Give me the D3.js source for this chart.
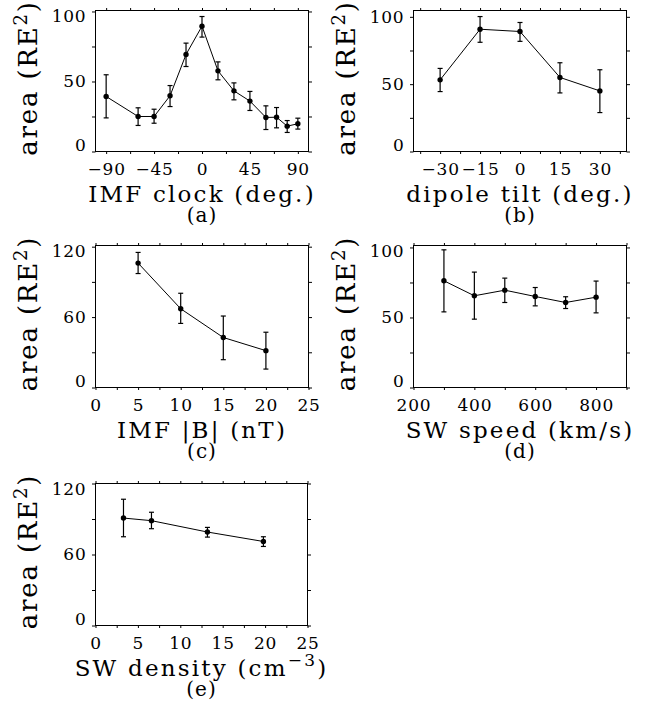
<!DOCTYPE html>
<html>
<head>
<meta charset="utf-8">
<title>Area vs solar wind parameters</title>
<script src="https://d3js.org/d3.v7.min.js"></script>
<style>
  body { margin: 0; background: #fff; }
  text { font-family: "DejaVu Serif", serif; fill: #000; }
</style>
</head>
<body>
<div id="chart"></div>
<script>
// (a) IMF clock angle
const clockX    = [-90, -60, -45, -30, -15, 0, 15, 30, 45, 60, 70, 80, 90];
const clockArea = [39.3, 25, 25, 39.8, 69.3, 89.5, 57.6, 43.3, 36, 24.3, 24.5, 18.1, 19.8];
const clockLo   = [24, 18.6, 20.2, 32.1, 60.7, 81.7, 51.2, 36.9, 29.3, 15.7, 16.9, 13.6, 16];
const clockHi   = [54.8, 31.2, 30.2, 47.1, 77.4, 96.4, 64, 49, 42.9, 32.6, 31.4, 22.1, 23.8];
const clockTicks = [-90, -45, 0, 45, 90];

// (b) dipole tilt
const tiltX    = [-30, -15, 0, 15, 30];
const tiltArea = [53.2, 90.8, 89.1, 55, 45];
const tiltLo   = [44.5, 81.1, 81.8, 43.5, 28.9];
const tiltHi   = [61.7, 100.2, 95.8, 65.9, 60.7];
const tiltTicks = [-30, -15, 0, 15, 30];

// (c) IMF |B|
const bX    = [5, 10, 15, 20];
const bArea = [106, 67.1, 42.6, 31.4];
const bLo   = [97.1, 54.6, 23.7, 15.7];
const bHi   = [115.1, 80.3, 60.9, 47.1];
const bTicks = [0, 5, 10, 15, 20, 25];

// (d) solar wind speed
const vX    = [300, 400, 500, 600, 700, 800];
const vArea = [76.2, 65.5, 69.5, 65, 60.7, 64.5];
const vLo   = [54, 48.8, 60.7, 58.3, 56.4, 53.3];
const vHi   = [98.3, 82.4, 78.1, 71.4, 64.8, 76];
const vTicks = [200, 400, 600, 800];

// (e) solar wind density
const nX    = [3.3, 6.6, 13.2, 19.8];
const nArea = [90.8, 88.6, 79, 71];
const nLo   = [75, 81.8, 74.7, 66.8];
const nHi   = [106.7, 95.7, 82.9, 75];
const nTicks = [0, 5, 10, 15, 20, 25];

const area50  = [0, 50, 100];
const area60  = [0, 60, 120];

const panels = [
  { tag: "(a)", x: clockX, y: clockArea, lo: clockLo, hi: clockHi,
    left: 95.5, right: 308.5, top: 10.5, bottom: 151.5,
    xDomain: [-100, 100], yDomain: [0, 100.7],
    xMinor: d3.range(-90, 91, 22.5), xLabels: clockTicks,
    yMinor: d3.range(0, 101, 25), yLabels: area50,
    xTitle: [["IMF clock (deg.)"]] },
  { tag: "(b)", x: tiltX, y: tiltArea, lo: tiltLo, hi: tiltHi,
    left: 413.5, right: 626.5, top: 10.5, bottom: 151.5,
    xDomain: [-40, 40], yDomain: [0, 104.7],
    xMinor: d3.range(-37.5, 38, 7.5), xLabels: tiltTicks,
    yMinor: d3.range(0, 101, 25), yLabels: area50,
    xTitle: [["dipole tilt (deg.)"]] },
  { tag: "(c)", x: bX, y: bArea, lo: bLo, hi: bHi,
    left: 95.5, right: 308.5, top: 245.5, bottom: 387.5,
    xDomain: [0, 25], yDomain: [0, 121],
    xMinor: d3.range(0, 25.1, 2.5), xLabels: bTicks,
    yMinor: d3.range(0, 121, 30), yLabels: area60,
    xTitle: [["IMF |B| (nT)"]] },
  { tag: "(d)", x: vX, y: vArea, lo: vLo, hi: vHi,
    left: 413.5, right: 626.5, top: 245.5, bottom: 387.5,
    xDomain: [200, 900], yDomain: [0, 101.4],
    xMinor: d3.range(200, 901, 100), xLabels: vTicks,
    yMinor: d3.range(0, 101, 25), yLabels: area50,
    xTitle: [["SW speed (km/s)"]] },
  { tag: "(e)", x: nX, y: nArea, lo: nLo, hi: nHi,
    left: 95.5, right: 307.5, top: 483.5, bottom: 625.5,
    xDomain: [0, 25], yDomain: [0, 120],
    xMinor: d3.range(0, 25.1, 2.5), xLabels: nTicks,
    yMinor: d3.range(0, 121, 30), yLabels: area60,
    xTitle: [["SW density (cm"], ["−3", "sup"], [")"]] }
];

const fmt = v => v < 0 ? "\u2212" + (-v) : String(v);

const svg = d3.select("#chart").append("svg")
    .attr("width", 645)
    .attr("height", 702);

function styleText(g, size, spacing) {
  g.selectAll("text")
      .attr("font-family", "DejaVu Serif")
      .attr("font-size", size)
      .attr("letter-spacing", spacing)
      .attr("fill", "#000");
}

function addRich(text, parts, size, supSize) {
  let up = false;
  parts.forEach(p => {
    const t = text.append("tspan").text(p[0]);
    if (p[1] === "sup") {
      t.attr("font-size", supSize).attr("dy", -10);
      up = true;
    } else {
      t.attr("font-size", size);
      if (up) { t.attr("dy", 10); up = false; }
    }
  });
}

panels.forEach(p => {
  const xs = d3.scaleLinear().domain(p.xDomain).range([p.left, p.right]);
  const ys = d3.scaleLinear().domain(p.yDomain).range([p.bottom, p.top]);
  const g = svg.append("g");

  // ticks on all four sides, pointing outward
  const gb = g.append("g").attr("transform", "translate(0," + p.bottom + ")")
      .call(d3.axisBottom(xs).tickValues(p.xMinor).tickSize(2.5).tickFormat(""));
  const gt = g.append("g").attr("transform", "translate(0," + p.top + ")")
      .call(d3.axisTop(xs).tickValues(p.xMinor).tickSize(2.5).tickFormat(""));
  const gl = g.append("g").attr("transform", "translate(" + p.left + ",0)")
      .call(d3.axisLeft(ys).tickValues(p.yMinor).tickSize(3.5).tickFormat(""));
  const gr = g.append("g").attr("transform", "translate(" + p.right + ",0)")
      .call(d3.axisRight(ys).tickValues(p.yMinor).tickSize(3.5).tickFormat(""));
  [gb, gt, gl, gr].forEach(a => a.select(".domain").remove());

  // tick labels
  const xl = g.append("g").attr("transform", "translate(0," + p.bottom + ")")
      .call(d3.axisBottom(xs).tickValues(p.xLabels).tickSize(0).tickPadding(11).tickFormat(fmt));
  xl.select(".domain").remove();
  styleText(xl, 17, 0.8);

  const yl = g.append("g").attr("transform", "translate(" + p.left + ",0)")
      .call(d3.axisLeft(ys).tickValues(p.yLabels).tickSize(0).tickPadding(9).tickFormat(fmt));
  yl.select(".domain").remove();
  styleText(yl, 17, 0.8);
  // keep end labels inside the axis range
  yl.selectAll(".tick text")
      .attr("y", d => Math.max(p.top + 6, Math.min(p.bottom - 6, ys(d))) - ys(d));

  // frame
  g.append("rect")
      .attr("x", p.left).attr("y", p.top)
      .attr("width", p.right - p.left).attr("height", p.bottom - p.top)
      .attr("fill", "none").attr("stroke", "#000").attr("stroke-width", 1);

  const pts = p.x.map((v, i) => ({ x: v, y: p.y[i], lo: p.lo[i], hi: p.hi[i] }));

  // error bars
  const eb = g.append("g").attr("stroke", "#000").attr("stroke-width", 1.2);
  eb.selectAll("line.v").data(pts).join("line")
      .attr("x1", d => xs(d.x)).attr("x2", d => xs(d.x))
      .attr("y1", d => ys(d.lo)).attr("y2", d => ys(d.hi));
  eb.selectAll("line.hi").data(pts).join("line").attr("class", "hi")
      .attr("x1", d => xs(d.x) - 2.5).attr("x2", d => xs(d.x) + 2.5)
      .attr("y1", d => ys(d.hi)).attr("y2", d => ys(d.hi));
  eb.selectAll("line.lo").data(pts).join("line").attr("class", "lo")
      .attr("x1", d => xs(d.x) - 2.5).attr("x2", d => xs(d.x) + 2.5)
      .attr("y1", d => ys(d.lo)).attr("y2", d => ys(d.lo));

  // connecting line
  g.append("path").datum(pts)
      .attr("fill", "none").attr("stroke", "#000").attr("stroke-width", 1)
      .attr("d", d3.line().x(d => xs(d.x)).y(d => ys(d.y)));

  g.selectAll("circle").data(pts).join("circle")
      .attr("cx", d => xs(d.x)).attr("cy", d => ys(d.y))
      .attr("r", 2.7).attr("fill", "#000");

  // axis titles
  const cx = (p.left + p.right) / 2;
  const xt = g.append("text")
      .attr("x", cx).attr("y", p.bottom + 50)
      .attr("text-anchor", "middle")
      .attr("font-size", 23).attr("letter-spacing", 2.2);
  addRich(xt, p.xTitle, 23, 17);

  const cy = (p.top + p.bottom) / 2 - 3;
  const yt = g.append("text")
      .attr("transform", "translate(" + (p.left - 59) + "," + cy + ") rotate(-90)")
      .attr("text-anchor", "middle")
      .attr("font-size", 26).attr("letter-spacing", 1.8);
  addRich(yt, [["area (RE"], ["2", "sup"], [")"]], 26, 18);

  g.append("text")
      .attr("x", cx).attr("y", p.bottom + 70)
      .attr("text-anchor", "middle")
      .attr("font-size", 20).attr("letter-spacing", 1)
      .text(p.tag);
});
</script>
</body>
</html>
